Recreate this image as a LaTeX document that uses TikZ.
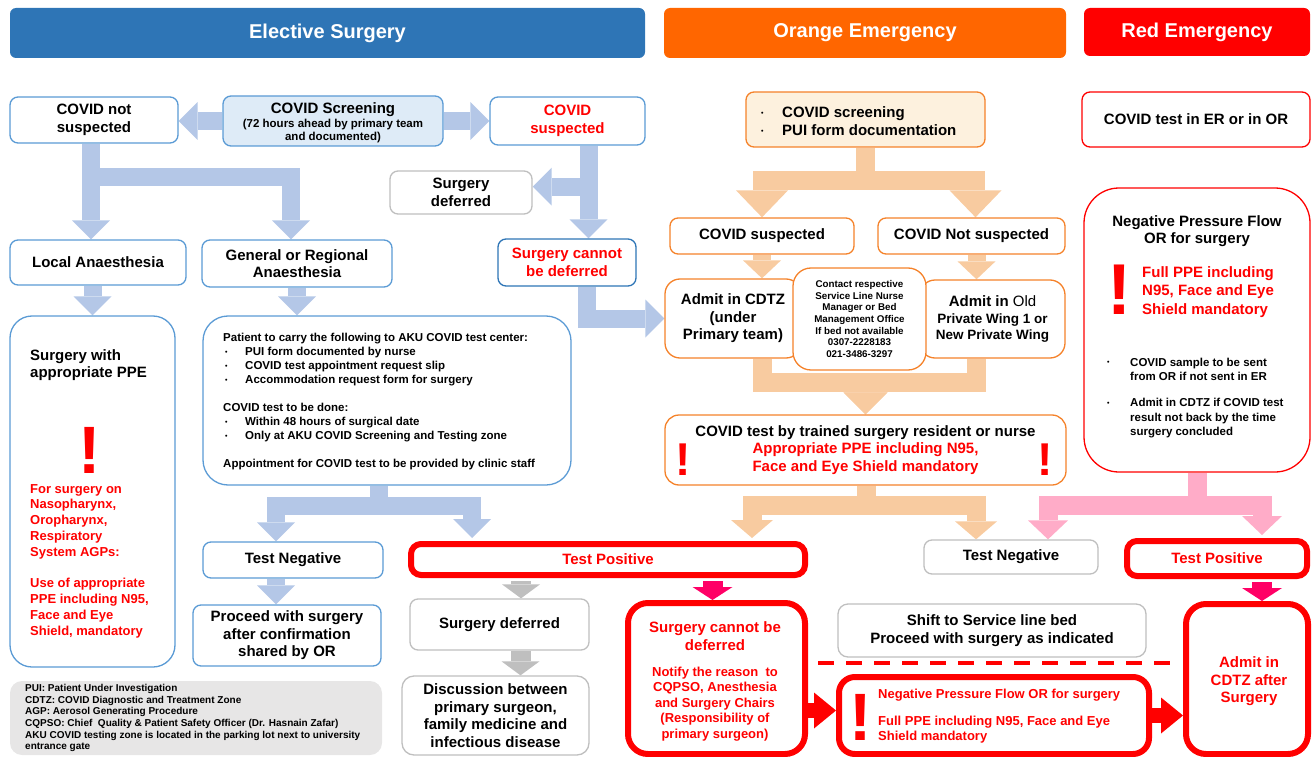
\documentclass[tikz,border=0pt]{standalone}
\usepackage{fontspec}
\setmainfont{Liberation Sans}
\usetikzlibrary{arrows.meta,calc}
\definecolor{hblue}{HTML}{2E75B6}
\definecolor{horange}{HTML}{FF6600}
\definecolor{hred}{HTML}{FF0000}
\definecolor{boxblue}{HTML}{5B9BD5}
\definecolor{boxorange}{HTML}{F5822A}
\definecolor{boxgray}{HTML}{BFBFBF}
\definecolor{screenfill}{HTML}{DEEBF7}
\definecolor{oscreenfill}{HTML}{FDF1DE}
\definecolor{legendfill}{HTML}{E7E6E6}
\definecolor{arrblue}{HTML}{B4C7E7}
\definecolor{arrpeach}{HTML}{F8CBA0}
\definecolor{arrpink}{HTML}{FFACC8}
\definecolor{arrgray}{HTML}{BFBFBF}
\definecolor{arrmag}{HTML}{FF0066}
\newcommand\myfs[2]{\fontsize{#1}{#2}\selectfont}
\newcommand\bul[1]{\makebox[#1pt][l]{\hspace{2pt}\raisebox{1.5pt}{\myfs{7}{8}•}}}
\pgfdeclarelayer{bg}
\pgfsetlayers{bg,main}
\tikzset{
  box/.style={draw, fill=white, rounded corners=8pt, line width=1.3pt, align=center, inner sep=1pt},
  bbox/.style={box, draw=boxblue},
  obox/.style={box, draw=boxorange},
  gbox/.style={box, draw=boxgray},
  rbox/.style={box, draw=hred, line width=6pt},
  sz/.style 2 args={minimum width=#1pt, minimum height=#2pt},
  hdr/.style={fill=#1, rounded corners=6pt, text=white, font=\bfseries\myfs{20}{24}, inner sep=0pt},
  tx/.style={inner sep=0pt, align=center},
  bang/.style={text=hred, inner sep=0pt, anchor=base, font=\bfseries\myfs{#1}{#1}},
  blk/.style n args={4}{draw=#1, line width=#2pt, -{Triangle[width=#3pt,length=#4pt,line width=0pt]}},
  barrow/.style={blk={arrblue}{18}{38}{19}},
  bline/.style={draw=arrblue, line width=18pt},
  oarrow/.style={blk={arrpeach}{19}{52}{27}},
  oarrowm/.style={blk={arrpeach}{19}{44}{22}},
  oarrows/.style={blk={arrpeach}{18}{38}{18}},
  oarrowb/.style={blk={arrpeach}{19}{42}{18}},
  oline/.style={draw=arrpeach, line width=19pt},
  parrow/.style={blk={arrpink}{19}{40}{19}},
  pline/.style={draw=arrpink, line width=19pt},
  garrow/.style={blk={arrgray}{20}{38}{14}},
  marrow/.style={blk={arrmag}{20}{40}{13}},
  rarrow/.style={blk={hred}{15}{36}{22}},
  reddash/.style={draw=hred, line width=4pt, dash pattern=on 16pt off 12pt}
}
\begin{document}
\begin{tikzpicture}[x=1pt,y=-1pt, every node/.style={font=\bfseries\myfs{15}{17.5}}]
\useasboundingbox (0,0) rectangle (1312,757);
% headers
\node[hdr=hblue, sz={635}{50}] (hE) at (327.5,33) {Elective Surgery};
\node[hdr=horange, sz={402}{50}] (hO) at (865,33) {Orange Emergency};
\node[hdr=hred, sz={226}{48}] (hR) at (1197,32) {Red Emergency};
% elective
\node[bbox, sz={168}{46}] (notsusp) at (94,120) {COVID not\\suspected};
\node[bbox, fill=screenfill, sz={220}{50}] (screen) at (333,121) {};
\node[tx] (screent1) at (333,110) {COVID Screening};
\node[tx, font=\bfseries\myfs{11.5}{13}] (screent2) at (333,131) {(72 hours ahead by primary team\\and documented)};
\node[bbox, sz={155}{48}, text=hred] (susp) at (567.5,121) {COVID\\suspected};
\node[gbox, sz={142}{43}] (deferred) at (461,192.5) {Surgery\\deferred};
\node[bbox, sz={176}{45}] (local) at (98,262.5) {Local Anaesthesia};
\node[bbox, sz={190}{47}] (general) at (297,263.5) {General or Regional\\Anaesthesia};
\node[bbox, draw=hblue, sz={138}{47}, text=hred] (cannot) at (567,262.5) {Surgery cannot\\be deferred};
\node[bbox, rounded corners=22pt, sz={165}{351}] (ppe) at (92.5,491.5) {};
\node[tx, anchor=north west, align=left] (ppet1) at (30,349) {Surgery with\\appropriate PPE};
\node[bang=67] (ppebang) at (90,473) {!};
\node[tx, anchor=north west, align=left, text=hred, font=\bfseries\myfs{13}{15.8}] (ppet2) at (30,484) {For surgery on\\Nasopharynx,\\Oropharynx,\\Respiratory\\System AGPs:\\[15.8pt]Use of appropriate\\PPE including N95,\\Face and Eye\\Shield, mandatory};
\node[bbox, rounded corners=25pt, sz={368}{169}] (patient) at (387,400.5) {};
\node[tx, anchor=north west, align=left, font=\bfseries\myfs{11.5}{14}] (patientt) at (223,333) {Patient to carry the following to AKU COVID test center:\\\bul{22}PUI form documented by nurse\\\bul{22}COVID test appointment request slip\\\bul{22}Accommodation request form for surgery\\[14pt]COVID test to be done:\\\bul{22}Within 48 hours of surgical date\\\bul{22}Only at AKU COVID Screening and Testing zone\\[14pt]Appointment for COVID test to be provided by clinic staff};
\node[bbox, sz={180}{36}] (tneg1) at (293,560) {Test Negative};
\node[bbox, sz={188}{61}] (proceed) at (287,635.5) {Proceed with surgery\\after confirmation\\shared by OR};
\node[fill=legendfill, rounded corners=12pt, sz={372}{74}] (legend) at (196,718) {};
\node[tx, anchor=north west, align=left, font=\bfseries\myfs{10}{11.7}] (legendt) at (25,684) {PUI: Patient Under Investigation\\CDTZ: COVID Diagnostic and Treatment Zone\\AGP: Aerosol Generating Procedure\\CQPSO: Chief~ Quality \& Patient Safety Officer (Dr. Hasnain Zafar)\\AKU COVID testing zone is located in the parking lot next to university\\entrance gate};
\node[rbox, rounded corners=10pt, sz={394}{31}, text=hred] (tpos1) at (608,559.5) {Test Positive};
\node[gbox, sz={179}{51}] (sdef2) at (499.5,624.5) {Surgery deferred};
\node[gbox, rounded corners=12pt, sz={187}{79}] (discuss) at (495.5,715.5) {Discussion between\\primary surgeon,\\family medicine and\\infectious disease};
% orange
\node[obox, fill=oscreenfill, sz={239}{55}] (oscreen) at (865.5,119.5) {};
\node[tx, anchor=west, align=left, font=\bfseries\myfs{15}{18}] (oscreent) at (759,121) {\bul{23}COVID screening\\\bul{23}PUI form documentation};
\node[obox, sz={184}{36}] (osusp) at (762,236) {COVID suspected};
\node[obox, sz={187}{36}] (onot) at (971.5,236) {COVID Not suspected};
\node[obox, rounded corners=15pt, sz={136}{79}] (cdtz) at (733,318.5) {Admit in CDTZ\\(under\\Primary team)};
\node[obox, rounded corners=15pt, sz={145}{78}, font=\bfseries\myfs{13.5}{16.5}] (oldwing) at (992.5,319) {{\myfs{15}{16.5}Admit in \mdseries Old}\\Private Wing 1 or\\New Private Wing};
\node[obox, rounded corners=18pt, sz={133}{102}, font=\bfseries\myfs{9.8}{11.7}] (contact) at (859.5,319) {Contact respective\\Service Line Nurse\\Manager or Bed\\Management Office\\If bed not available\\0307-2228183\\021-3486-3297};
\node[obox, rounded corners=14pt, sz={401}{70}] (ctest) at (865.5,450) {COVID test by trained surgery resident or nurse\\\textcolor{hred}{Appropriate PPE including N95,}\\\textcolor{hred}{Face and Eye Shield mandatory}};
\node[bang=46] (ctbang1) at (683,475) {!};
\node[bang=46] (ctbang2) at (1045,475) {!};
\node[gbox, sz={174}{34}] (tneg2) at (1011,557) {Test Negative};
\node[rbox, rounded corners=20pt, sz={177}{151}] (scd) at (716.5,678.5) {};
\node[tx, text=hred, font=\bfseries\myfs{15}{18}] (scdt1) at (715,636) {Surgery cannot be\\deferred};
\node[tx, text=hred, font=\bfseries\myfs{13}{15.5}] (scdt2) at (715,704) {Notify the reason~ to\\CQPSO, Anesthesia\\and Surgery Chairs\\(Responsibility of\\primary surgeon)};
\node[gbox, rounded corners=10pt, sz={308}{53}] (shift) at (992,630.5) {Shift to Service line bed\\Proceed with surgery as indicated};
\node[rbox, rounded corners=16pt, sz={310}{77}] (negp) at (994,715.5) {};
\node[bang=67] (negpbang) at (861,740) {!};
\node[tx, anchor=north west, align=left, text=hred, font=\bfseries\myfs{13}{15.5}] (negpt) at (878,689) {Negative Pressure Flow OR for surgery\\[11pt]Full PPE including N95, Face and Eye\\Shield mandatory};
% red
\node[box, draw=hred, sz={228}{55}] (rtest) at (1196,119.5) {COVID test in ER or in OR};
\node[box, draw=hred, rounded corners=35pt, sz={226}{284}] (rneg) at (1197,330) {};
\node[tx] (rnegt1) at (1197,231) {Negative Pressure Flow\\OR for surgery};
\node[bang=72] (rnegbang) at (1119,314) {!};
\node[tx, anchor=west, align=left, text=hred, font=\bfseries\myfs{15}{18.5}] (rnegt2) at (1142,292) {Full PPE including\\N95, Face and Eye\\Shield mandatory};
\node[tx, anchor=north west, align=left, font=\bfseries\myfs{11.5}{14.5}] (rnegt3) at (1105,357.5) {\bul{25}COVID sample to be sent\\\makebox[25pt]{}from OR if not sent in ER\\[11.5pt]\bul{25}Admit in CDTZ if COVID test\\\makebox[25pt]{}result not back by the time\\\makebox[25pt]{}surgery concluded};
\node[rbox, rounded corners=10pt, sz={180}{35}, text=hred] (tpos2) at (1217,558.5) {Test Positive};
\node[rbox, rounded corners=20pt, sz={122}{150}] (cdtzafter) at (1247,679) {};
\node[tx, text=hred] (cdtzat) at (1249,681.5) {Admit in\\CDTZ after\\Surgery};
% dashed separator
\coordinate (dA) at (818,663);
\coordinate (dB) at (1178,663);
\draw[reddash] (dA) -- (dB);
% helper coordinates
\coordinate (n1) at ($(notsusp.south)+(-3,0)$);
\coordinate (s1) at ($(susp.south)+(21,0)$);
\coordinate (s2) at ($(susp.south)+(21,41)$);
\coordinate (p1) at ($(patient.south)+(-8,20)$);
\coordinate (t1) at ($(tneg1.south)+(-17,0)$);
\coordinate (g1) at ($(tpos1.south)+(-87,3)$);
\coordinate (g2) at ($(sdef2.south)+(21,0)$);
\coordinate (m1) at ($(tpos1.south -| scd.north)+(-4,3)$);
\coordinate (o1) at ($(oscreen.south)+(0,33)$);
\coordinate (o2) at ($(onot.south)+(5,0)$);
\coordinate (o3) at ($(ctest.north)+(0,-32)$);
\coordinate (o4) at ($(ctest.south)+(1,20)$);
\coordinate (k1) at ($(rneg.south)+(0,33)$);
\coordinate (m2) at ($(tpos2.south)+(45,3)$);
\coordinate (r1) at ($(scd.east)+(0,32)$);
\begin{pgfonlayer}{bg}
% elective arrows
\draw[barrow] (screen.west) -- (screen.west -| notsusp.east);
\draw[barrow] (screen.east) -- (screen.east -| susp.west);
\draw[barrow] (n1) -- (n1 |- local.north);
\draw[barrow] ($(notsusp.south)+(-3,33)$) -| ($(general.north)+(-6,0)$);
\draw[barrow] (s1) -- (s1 |- cannot.north);
\draw[barrow] (s2) -- (s2 -| deferred.east);
\draw[barrow] ($(cannot.south)+(20,0)$) |- (cdtz.west);
\draw[barrow] (local.south -| ppe.north) -- (ppe.north);
\draw[barrow] (general.south) -- (general.south |- patient.north);
\draw[bline] ($(patient.south)+(-8,0)$) -- ($(patient.south)+(-8,29)$);
\draw[barrow] (p1) -| ($(tneg1.north)+(-17,0)$);
\draw[barrow] (p1) -| ($(tpos1.north)+(-136,-3)$);
\draw[barrow] (t1) -- (t1 |- proceed.north);
\draw[garrow] (g1) -- (g1 |- sdef2.north);
\draw[garrow] (g2) -- (g2 |- discuss.north);
\draw[marrow] (m1) -- (m1 |- scd.north);
% orange arrows
\draw[oline] (oscreen.south) -- ($(oscreen.south)+(0,42)$);
\draw[oarrow] (o1) -| (osusp.north);
\draw[oarrow] (o1) -| ($(onot.north)+(4,0)$);
\draw[oarrows] (osusp.south) -- (osusp.south |- cdtz.north);
\draw[oarrows] (o2) -- (o2 |- oldwing.north);
\draw[oarrowm] (cdtz.south -| osusp.south) |- (o3) -- (ctest.north);
\draw[oarrowm] (oldwing.south -| o2) |- (o3) -- (ctest.north);
\draw[oline] ($(ctest.south)+(1,0)$) -- ($(ctest.south)+(1,29.5)$);
\draw[oarrowb] (o4) -| ($(tpos1.north)+(144,-3)$);
\draw[oarrowb] (o4) -| ($(tneg2.north)+(-35,0)$);
% red arrows
\draw[pline] (rneg.south) -- ($(rneg.south)+(0,42)$);
\draw[parrow] (k1) -| ($(tneg2.north)+(37,0)$);
\draw[parrow] (k1) -| ($(tpos2.north)+(45,-3)$);
\draw[marrow] (m2) -- (m2 |- cdtzafter.north);
\draw[rarrow] (r1) -- (r1 -| negp.west);
\draw[rarrow] (negp.east) -- (negp.east -| cdtzafter.west);
\end{pgfonlayer}
\end{tikzpicture}
\end{document}
